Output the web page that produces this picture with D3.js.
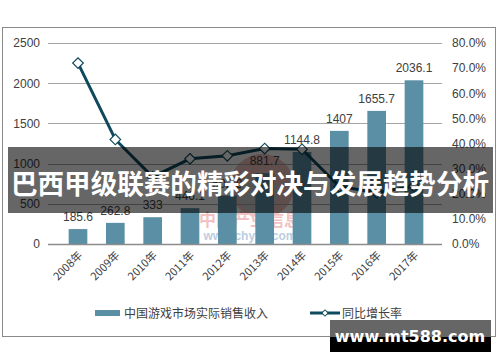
<!DOCTYPE html>
<meta charset="utf-8">
<html>
<head>
  <title>中国游戏市场实际销售收入</title>
  <style>
    body { margin: 0; background: #fff; }
    svg { display: block; }
    .tick text { font-family: "Liberation Sans", Arial, sans-serif; font-size: 12px; fill: #404040; }
    .lbl { font-family: "Liberation Sans", Arial, sans-serif; font-size: 12px; fill: #404040; }
    .cjk { font-family: "Noto Sans CJK SC", sans-serif; }
  </style>
  <script src="https://d3js.org/d3.v7.min.js"></script>
</head>
<body>
  <svg width="500" height="362"></svg>
  <script>
    // values
    var years = ["2008年", "2009年", "2010年", "2011年", "2012年", "2013年", "2014年", "2015年", "2016年", "2017年"];
    var revenue = [185.6, 262.8, 333, 446.1, 602.8, 881.7, 1144.8, 1407, 1655.7, 2036.1];
    var growth = [72.0, 41.6, 26.7, 33.9, 35.1, 38.0, 37.7, 22.9, 20.5, 23.0];
    var leftTicks = [0, 500, 1000, 1500, 2000, 2500];
    var rightTicks = [0, 10, 20, 30, 40, 50, 60, 70, 80];
    var seriesNames = ["中国游戏市场实际销售收入", "同比增长率"];
    var title = "巴西甲级联赛的精彩对决与发展趋势分析";

    var barColor = "#5a8fa6", lineColor = "#0f4a5c";

    var svg = d3.select("svg");

    // outer frame of the chart
    svg.append("rect")
      .attr("x", 2.5).attr("y", 27.5).attr("width", 493).attr("height", 309)
      .attr("fill", "#fff").attr("stroke", "#8a8a8a");

    var x = d3.scaleBand().domain(years).range([50, 442]).padding(0.5);
    var yL = d3.scaleLinear().domain([0, 2500]).range([244, 43]);
    var yR = d3.scaleLinear().domain([0, 80]).range([244, 43]);

    // watermark
    var wm = svg.append("g").attr("opacity", 0.35);
    wm.append("circle").attr("cx", 262).attr("cy", 186).attr("r", 32).attr("fill", "#d9534f");
    wm.append("circle").attr("cx", 258).attr("cy", 194).attr("r", 20).attr("fill", "#777");
    wm.append("text").attr("class", "cjk").attr("x", 250).attr("y", 226)
      .attr("text-anchor", "middle").attr("font-size", 17).attr("font-weight", 700)
      .attr("fill", "#d9534f").text("中国产业信息");
    wm.append("text").attr("x", 250).attr("y", 240)
      .attr("text-anchor", "middle").attr("font-size", 12).attr("font-weight", 700)
      .attr("font-family", "Liberation Sans, Arial, sans-serif")
      .attr("fill", "#3b6ea8").text("www.chyxx.com");

    // gridlines
    svg.append("g").selectAll("line")
      .data(leftTicks.slice(1))
      .enter().append("line")
        .attr("x1", 48).attr("x2", 442)
        .attr("y1", function(d) { return Math.round(yL(d)) + 0.5; })
        .attr("y2", function(d) { return Math.round(yL(d)) + 0.5; })
        .attr("stroke", "#a6a6a6");

    // left axis
    var gL = svg.append("g").attr("transform", "translate(48,0)")
      .call(d3.axisLeft(yL).tickValues(leftTicks).tickSize(0).tickPadding(8)
        .tickFormat(d3.format("d")));
    gL.select(".domain").remove();

    // right axis
    var gR = svg.append("g").attr("transform", "translate(444,0)")
      .call(d3.axisRight(yR).tickValues(rightTicks).tickSize(0).tickPadding(8)
        .tickFormat(function(d) { return d.toFixed(1) + "%"; }));
    gR.select(".domain").remove();

    // bars
    svg.append("g").selectAll("rect")
      .data(revenue)
      .enter().append("rect")
        .attr("x", function(d, i) { return x(years[i]); })
        .attr("y", function(d) { return yL(d); })
        .attr("width", x.bandwidth())
        .attr("height", function(d) { return yL(0) - yL(d); })
        .attr("fill", barColor);

    // bar labels
    svg.append("g").selectAll("text")
      .data(revenue)
      .enter().append("text")
        .attr("class", "lbl")
        .attr("x", function(d, i) { return x(years[i]) + x.bandwidth() / 2; })
        .attr("y", function(d) { return yL(d) - 8; })
        .attr("text-anchor", "middle")
        .text(function(d) { return String(d); });

    // base line
    svg.append("line").attr("x1", 48).attr("x2", 442)
      .attr("y1", yL(0) + 0.5).attr("y2", yL(0) + 0.5)
      .attr("stroke", "#8c8c8c").attr("stroke-width", 1.5);

    // x labels
    svg.append("g").selectAll("text")
      .data(years)
      .enter().append("text")
        .attr("class", "cjk")
        .attr("font-size", 11).attr("fill", "#404040")
        .attr("text-anchor", "end")
        .attr("transform", function(d) {
          return "translate(" + (x(d) + x.bandwidth() / 2 + 5) + ",256) rotate(-45)";
        })
        .text(function(d) { return d; });

    // growth line
    var line = d3.line()
      .x(function(d, i) { return x(years[i]) + x.bandwidth() / 2; })
      .y(function(d) { return yR(d); });

    svg.append("path")
      .attr("d", line(growth))
      .attr("fill", "none").attr("stroke", lineColor).attr("stroke-width", 3);

    svg.append("g").selectAll("path")
      .data(growth)
      .enter().append("path")
        .attr("d", d3.symbol().type(d3.symbolSquare).size(56))
        .attr("transform", function(d, i) {
          return "translate(" + (x(years[i]) + x.bandwidth() / 2) + "," + yR(d) + ") rotate(45)";
        })
        .attr("fill", "#fff").attr("stroke", lineColor).attr("stroke-width", 1.2);

    // legend
    var lg = svg.append("g");
    lg.append("rect").attr("x", 95).attr("y", 310).attr("width", 25).attr("height", 6).attr("fill", barColor);
    lg.append("text").attr("class", "cjk").attr("x", 124).attr("y", 318)
      .attr("font-size", 12).attr("fill", "#404040").text(seriesNames[0]);
    lg.append("line").attr("x1", 310).attr("x2", 340).attr("y1", 313).attr("y2", 313)
      .attr("stroke", lineColor).attr("stroke-width", 3);
    lg.append("path").attr("d", d3.symbol().type(d3.symbolSquare).size(20))
      .attr("transform", "translate(325,313) rotate(45)")
      .attr("fill", "#fff").attr("stroke", lineColor);
    lg.append("text").attr("class", "cjk").attr("x", 342).attr("y", 318)
      .attr("font-size", 12).attr("fill", "#404040").text(seriesNames[1]);

    // title banner over the chart
    svg.append("rect").attr("x", 8).attr("y", 147).attr("width", 485).attr("height", 66)
      .attr("fill", "#000").attr("fill-opacity", 0.6);
    svg.append("text").attr("class", "cjk")
      .attr("x", 11).attr("y", 194)
      .attr("textLength", 478).attr("lengthAdjust", "spacingAndGlyphs")
      .attr("font-size", 27).attr("font-weight", 700).attr("fill", "#fff")
      .text(title);

    // site tag at bottom right
    svg.append("rect").attr("x", 330).attr("y", 320).attr("width", 161).attr("height", 17)
      .attr("fill", "#666");
    svg.append("rect").attr("x", 330).attr("y", 337).attr("width", 161).attr("height", 15)
      .attr("fill", "#000");
    svg.append("text")
      .attr("x", 410).attr("y", 342)
      .attr("text-anchor", "middle")
      .attr("font-family", "DejaVu Sans, sans-serif")
      .attr("font-size", 16).attr("font-weight", 700).attr("fill", "#fff")
      .text("www.mt588.com");
  </script>
</body>
</html>
